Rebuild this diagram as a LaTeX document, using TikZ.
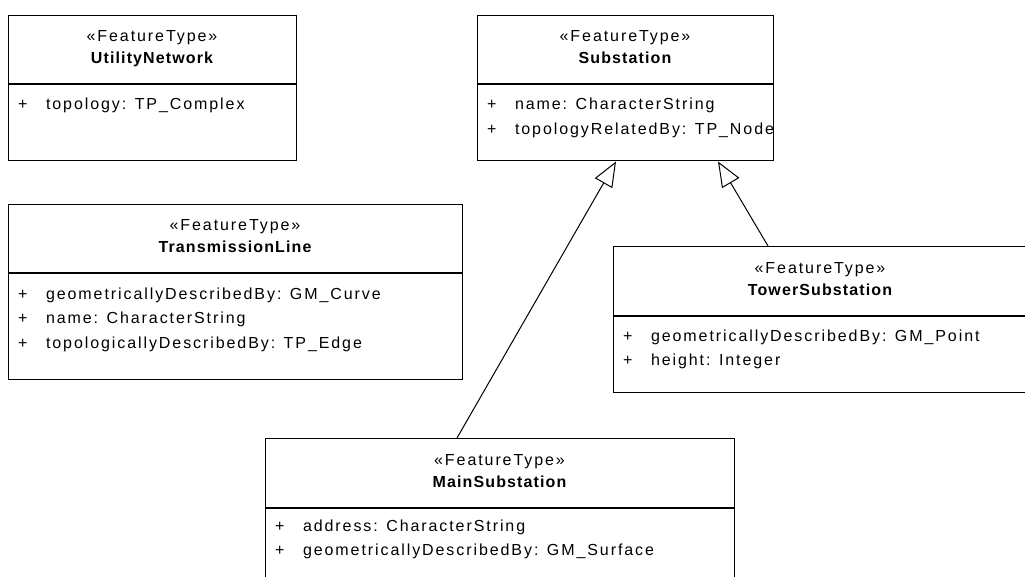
\documentclass[tikz,border=0pt]{standalone}
\usepackage{fontspec}
\usepackage{tikz}
\usetikzlibrary{arrows.meta,positioning,calc}
\newfontfamily\umlfont[LetterSpace=12, BoldFeatures={LetterSpace=7}]{Liberation Sans}

\begin{document}
\begin{tikzpicture}[x=1pt, y=1pt, line width=1pt]
        \tikzset{
            head/.style={draw, rectangle, minimum height=68.5pt, inner sep=0pt, anchor=north},
            body/.style={draw, rectangle, inner sep=0pt, anchor=north},
            stereo/.style={anchor=base, inner sep=0pt, font=\umlfont\fontsize{16}{20}\selectfont},
            title/.style={anchor=base, inner sep=0pt, font=\umlfont\fontsize{16}{20}\selectfont\bfseries},
            attr/.style={anchor=base west, inner sep=0pt, font=\umlfont\fontsize{16}{20}\selectfont},
            inherit/.style={draw, -{Triangle[open, length=25pt, width=20pt]}, line width=1pt}
        }
        \path[use as bounding box, clip] (0,0) rectangle (1025,-577);

        % UtilityNetwork
        \node [head, minimum width=288pt] (unethead) at (152,-15) {};
        \node [body, minimum width=288pt, minimum height=76pt] (unetbody) at (unethead.south) {};
        \node [stereo] (unetst) at ([yshift=-27pt]unethead.north) {«FeatureType»};
        \node [title] (unetname) at ([yshift=-49pt]unethead.north) {UtilityNetwork};
        \node [attr] (unet1) at ([shift={(10pt,-25.5pt)}]unetbody.north west) {\makebox[28pt][l]{+}topology: TP\_Complex};

        % Substation
        \node [head, minimum width=296pt] (subhead) at (625,-15) {};
        \node [body, minimum width=296pt, minimum height=76pt] (subbody) at (subhead.south) {};
        \node [stereo] (subst) at ([yshift=-27pt]subhead.north) {«FeatureType»};
        \node [title] (subname) at ([yshift=-49pt]subhead.north) {Substation};
        \foreach \a [count=\i] in {name: CharacterString, topologyRelatedBy: TP\_Node}
            \node [attr] (sub\i) at ([shift={(10pt,-25.5pt-24.5pt*(\i-1))}]subbody.north west) {\makebox[28pt][l]{+}\a};

        % TransmissionLine
        \node [head, minimum width=454pt] (tlinehead) at (235,-204) {};
        \node [body, minimum width=454pt, minimum height=105pt] (tlinebody) at (tlinehead.south) {};
        \node [stereo] (tlinest) at ([yshift=-27pt]tlinehead.north) {«FeatureType»};
        \node [title] (tlinename) at ([yshift=-49pt]tlinehead.north) {TransmissionLine};
        \foreach \a [count=\i] in {geometricallyDescribedBy: GM\_Curve, name: CharacterString, topologicallyDescribedBy: TP\_Edge}
            \node [attr] (tline\i) at ([shift={(10pt,-25.5pt-24.5pt*(\i-1))}]tlinebody.north west) {\makebox[28pt][l]{+}\a};

        % TowerSubstation
        \node [head, minimum width=414pt] (towerhead) at (820,-246) {};
        \node [body, minimum width=414pt, minimum height=76pt] (towerbody) at (towerhead.south) {};
        \node [stereo] (towerst) at ([yshift=-27pt]towerhead.north) {«FeatureType»};
        \node [title] (towername) at ([yshift=-49pt]towerhead.north) {TowerSubstation};
        \foreach \a [count=\i] in {geometricallyDescribedBy: GM\_Point, height: Integer}
            \node [attr] (tower\i) at ([shift={(10pt,-25.5pt-24.5pt*(\i-1))}]towerbody.north west) {\makebox[28pt][l]{+}\a};

        % MainSubstation
        \node [head, minimum width=469pt] (mainhead) at (499.5,-438) {};
        \node [body, minimum width=469pt, minimum height=110pt] (mainbody) at (mainhead.south) {};
        \node [stereo] (mainst) at ([yshift=-27pt]mainhead.north) {«FeatureType»};
        \node [title] (mainname) at ([yshift=-49pt]mainhead.north) {MainSubstation};
        \foreach \a [count=\i] in {address: CharacterString, geometricallyDescribedBy: GM\_Surface}
            \node [attr] (main\i) at ([shift={(10pt,-23.5pt-24.5pt*(\i-1))}]mainbody.north west) {\makebox[28pt][l]{+}\a};

        % Generalizations
        \draw [inherit] ([xshift=-42.5pt]mainhead.north) -- ([xshift=-9pt]subbody.south);
        \draw [inherit] ([xshift=-52pt]towerhead.north) -- ([xshift=93pt]subbody.south);
\end{tikzpicture}
\end{document}
